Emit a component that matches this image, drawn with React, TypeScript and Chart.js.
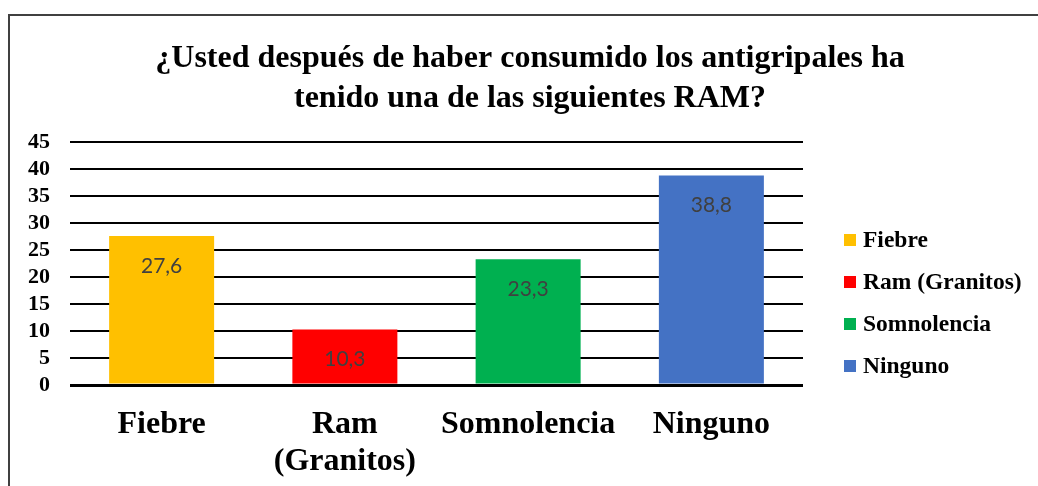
import { useEffect, useRef } from "react";
import { Chart, registerables } from "chart.js";

Chart.register(...registerables);

const categories = ["Fiebre", "Ram (Granitos)", "Somnolencia", "Ninguno"];
const axisLabels = [["Fiebre"], ["Ram", "(Granitos)"], ["Somnolencia"], ["Ninguno"]];
const values = [27.6, 10.3, 23.3, 38.8];
const valueLabels = ["27,6", "10,3", "23,3", "38,8"];
const colors = ["#FFC000", "#FF0000", "#00B050", "#4472C4"];
const titleLines = [
  "¿Usted después de haber consumido los antigripales ha",
  "tenido una de las siguientes RAM?",
];
const yMin = 0;
const yMax = 45;
const yStep = 5;

const SERIF = "'Liberation Serif', 'Times New Roman', serif";

export default function App() {
  const ref = useRef<HTMLCanvasElement | null>(null);

  useEffect(() => {
    if (!ref.current) return;

    const framePlugin = {
      id: "frame",
      beforeDraw(chart: any) {
        const ctx = chart.ctx;
        ctx.save();
        ctx.fillStyle = "#ffffff";
        ctx.fillRect(0, 0, chart.width, chart.height);
        ctx.strokeStyle = "#404040";
        ctx.lineWidth = 2;
        ctx.strokeRect(9, 15, chart.width + 40, chart.height + 40);
        ctx.restore();
      },
    };

    const titlePlugin = {
      id: "customTitle",
      afterDraw(chart: any) {
        const ctx = chart.ctx;
        ctx.save();
        ctx.fillStyle = "#000000";
        ctx.font = `bold 32px ${SERIF}`;
        ctx.textAlign = "center";
        ctx.textBaseline = "alphabetic";
        titleLines.forEach((line, i) => {
          ctx.fillText(line, 530, 67 + i * 40);
        });
        ctx.restore();
      },
    };

    const legendPlugin = {
      id: "customLegend",
      afterDraw(chart: any) {
        const ctx = chart.ctx;
        ctx.save();
        ctx.font = `bold 23.5px ${SERIF}`;
        ctx.textAlign = "left";
        ctx.textBaseline = "middle";
        categories.forEach((c, i) => {
          const cy = 240 + i * 42;
          ctx.fillStyle = colors[i];
          ctx.fillRect(844, cy - 6, 12, 12);
          ctx.fillStyle = "#000000";
          ctx.fillText(c, 863, cy + 1);
        });
        ctx.restore();
      },
    };

    const dataLabelPlugin = {
      id: "dataLabels",
      afterDatasetsDraw(chart: any) {
        const ctx = chart.ctx;
        const meta = chart.getDatasetMeta(0);
        ctx.save();
        ctx.font = "21px Lato, 'Liberation Sans', sans-serif";
        ctx.fillStyle = "#404040";
        ctx.textAlign = "center";
        ctx.textBaseline = "middle";
        meta.data.forEach((el: any, i: number) => {
          ctx.fillText(valueLabels[i], el.x, el.y + 30);
        });
        ctx.restore();
      },
    };

    const chart = new Chart(ref.current, {
      type: "bar",
      data: {
        labels: axisLabels,
        datasets: [
          {
            data: values,
            backgroundColor: colors,
            borderWidth: 0,
            categoryPercentage: 1,
            barPercentage: 0.573,
          },
        ],
      },
      options: {
        responsive: false,
        animation: false,
        devicePixelRatio: 1,
        layout: { padding: { top: 142, right: 235, bottom: 0, left: 0 } },
        plugins: {
          legend: { display: false },
          title: { display: false },
          tooltip: { enabled: false },
        },
        scales: {
          x: {
            grid: { display: false, drawTicks: false },
            border: { display: false },
            ticks: {
              color: "#000000",
              padding: 21,
              maxRotation: 0,
              autoSkip: false,
              font: { family: SERIF, size: 32, weight: "bold", lineHeight: 1.17 },
            },
            afterFit(scale: any) {
              scale.height = 101;
            },
          },
          y: {
            min: yMin,
            max: yMax,
            grid: {
              color: "#000000",
              lineWidth: (c: any) => (c.tick && c.tick.value === 0 ? 3 : 2),
              drawTicks: false,
            },
            border: { display: false },
            ticks: {
              stepSize: yStep,
              autoSkip: false,
              color: "#000000",
              padding: 20,
              font: { family: SERIF, size: 22, weight: "bold" },
            },
            afterFit(scale: any) {
              scale.width = 70;
            },
          },
        },
      } as any,
      plugins: [framePlugin, titlePlugin, legendPlugin, dataLabelPlugin],
    });

    return () => chart.destroy();
  }, []);

  return (
    <div style={{ position: "fixed", left: 0, top: 0, width: 1038, height: 486 }}>
      <canvas ref={ref} width={1038} height={486} style={{ display: "block" }} />
    </div>
  );
}
